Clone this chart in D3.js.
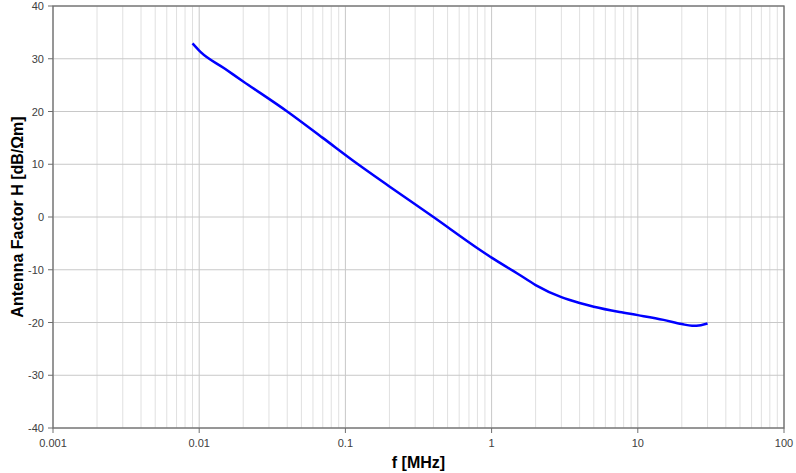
<!DOCTYPE html>
<html>
<head>
<meta charset="utf-8">
<script src="https://cdn.jsdelivr.net/npm/d3@7"></script>
<style>
  body { margin: 0; background: #fff; }
  svg { display: block; }
  .tick-label { font-family: "Liberation Sans", Arial, sans-serif; font-size: 11px; fill: #404040; }
  .axis-title { font-family: "Liberation Sans", Arial, sans-serif; font-size: 16px; font-weight: bold; fill: #000; }
</style>
</head>
<body>
<div id="chart"></div>
<script>
// frequency in MHz, antenna factor in dB/Ohm m
var freq = [0.009, 0.0102, 0.015, 0.02, 0.04, 0.07, 0.122, 0.2, 0.4, 0.834, 1, 1.5, 2, 3, 4, 5, 7.5, 10, 15, 20, 23.5, 27, 30];
var factor = [32.9, 31.3, 28.1, 25.7, 20, 15.0, 10, 5.8, 0, -6.25, -7.7, -10.7, -12.9, -15.2, -16.3, -17.0, -18.0, -18.6, -19.5, -20.3, -20.6, -20.5, -20.2];
var xTicks = [0.001, 0.01, 0.1, 1, 10, 100];
var yTicks = [-40, -30, -20, -10, 0, 10, 20, 30, 40];

var width = 796, height = 473;
var margin = {top: 6, right: 12, bottom: 45, left: 53};

var svg = d3.select("#chart").append("svg")
    .attr("width", width)
    .attr("height", height);

var x = d3.scaleLog().domain([0.001, 100]).range([margin.left, width - margin.right]);
var y = d3.scaleLinear().domain([-40, 40]).range([height - margin.bottom, margin.top]);

// minor vertical grid (2..9 of each decade)
var minor = [];
for (var d = 0.001; d < 100; d *= 10) {
    for (var k = 2; k <= 9; k++) minor.push(d * k);
}
svg.append("g").selectAll("line")
    .data(minor)
    .enter().append("line")
    .attr("x1", function(v){ return x(v); })
    .attr("x2", function(v){ return x(v); })
    .attr("y1", y(-40))
    .attr("y2", y(40))
    .attr("stroke", "#e0e0e0")
    .attr("stroke-width", 1);

// major vertical grid
svg.append("g").selectAll("line")
    .data(xTicks)
    .enter().append("line")
    .attr("x1", function(v){ return x(v); })
    .attr("x2", function(v){ return x(v); })
    .attr("y1", y(-40))
    .attr("y2", y(40))
    .attr("stroke", "#c8c8c8")
    .attr("stroke-width", 1);

// horizontal grid
svg.append("g").selectAll("line")
    .data(yTicks)
    .enter().append("line")
    .attr("x1", x(0.001))
    .attr("x2", x(100))
    .attr("y1", function(v){ return y(v); })
    .attr("y2", function(v){ return y(v); })
    .attr("stroke", "#c8c8c8")
    .attr("stroke-width", 1);

// plot border
svg.append("rect")
    .attr("x", x(0.001))
    .attr("y", y(40))
    .attr("width", x(100) - x(0.001))
    .attr("height", y(-40) - y(40))
    .attr("fill", "none")
    .attr("stroke", "#6e6e6e")
    .attr("stroke-width", 1.3);

// left ticks + labels
var yAx = svg.append("g");
yAx.selectAll("line")
    .data(yTicks)
    .enter().append("line")
    .attr("x1", x(0.001) - 5)
    .attr("x2", x(0.001))
    .attr("y1", function(v){ return y(v); })
    .attr("y2", function(v){ return y(v); })
    .attr("stroke", "#6e6e6e");
yAx.selectAll("text")
    .data(yTicks)
    .enter().append("text")
    .attr("class", "tick-label")
    .attr("x", x(0.001) - 9)
    .attr("y", function(v){ return y(v) + 4; })
    .attr("text-anchor", "end")
    .text(function(v){ return v; });

// bottom ticks + labels
var xAx = svg.append("g");
xAx.selectAll("line")
    .data(xTicks)
    .enter().append("line")
    .attr("x1", function(v){ return x(v); })
    .attr("x2", function(v){ return x(v); })
    .attr("y1", y(-40))
    .attr("y2", y(-40) + 5)
    .attr("stroke", "#6e6e6e");
xAx.selectAll("text")
    .data(xTicks)
    .enter().append("text")
    .attr("class", "tick-label")
    .attr("x", function(v){ return x(v); })
    .attr("y", y(-40) + 19)
    .attr("text-anchor", "middle")
    .text(function(v){ return String(v); });

// curve
var pts = freq.map(function(f, i){ return [f, factor[i]]; });
var line = d3.line()
    .x(function(p){ return x(p[0]); })
    .y(function(p){ return y(p[1]); })
    .curve(d3.curveMonotoneX);
svg.append("path")
    .datum(pts)
    .attr("d", line)
    .attr("fill", "none")
    .attr("stroke", "#0000ff")
    .attr("stroke-width", 2.5);

// axis titles
svg.append("text")
    .attr("class", "axis-title")
    .attr("x", (x(0.001) + x(100)) / 2)
    .attr("y", 468)
    .attr("text-anchor", "middle")
    .text("f [MHz]");
svg.append("text")
    .attr("class", "axis-title")
    .attr("transform", "translate(23," + ((y(40) + y(-40)) / 2) + ") rotate(-90)")
    .attr("text-anchor", "middle")
    .text("Antenna Factor H [dB/\u03a9m]");
</script>
</body>
</html>
